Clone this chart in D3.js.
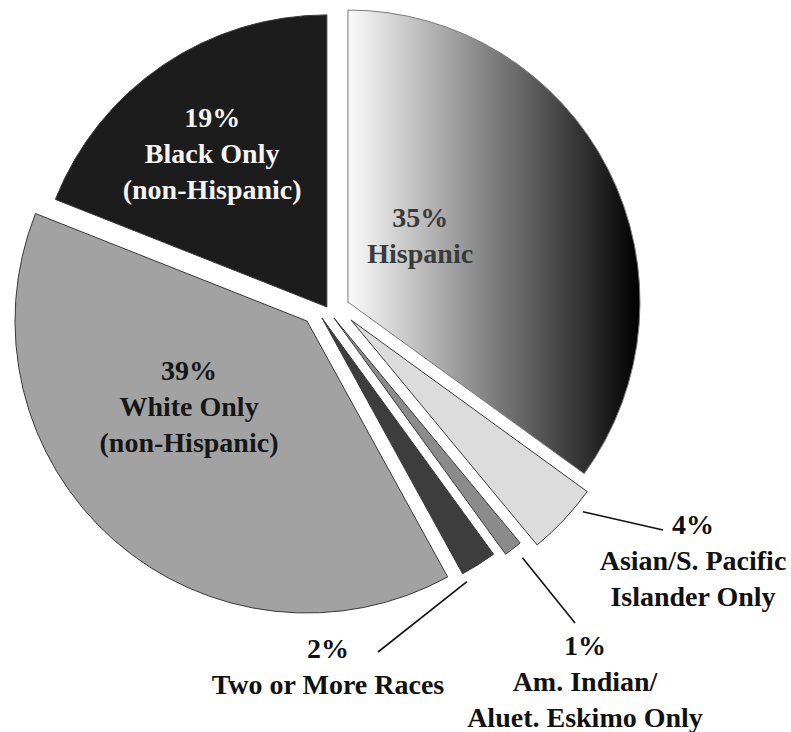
<!DOCTYPE html>
<html>
<head>
<meta charset="utf-8">
<script src="https://cdn.jsdelivr.net/npm/d3@7"></script>
<style>
  html, body { margin: 0; padding: 0; background: #fff; }
  svg { display: block; }
  text { font-family: "Liberation Serif", "Times New Roman", serif; font-weight: bold; }
</style>
</head>
<body>
<svg id="chart" width="791" height="732"></svg>
<script>
// Population shares by race / ethnicity (percent), clockwise from 12 o'clock
const categories = [
  "Hispanic",
  "Asian/S. Pacific Islander Only",
  "Am. Indian/Aluet. Eskimo Only",
  "Two or More Races",
  "White Only (non-Hispanic)",
  "Black Only (non-Hispanic)"
];
const shares = [35, 4, 1, 2, 39, 19];
const labelNames = [
  ["Hispanic"],
  ["Asian/S. Pacific", "Islander Only"],
  ["Am. Indian/", "Aluet. Eskimo Only"],
  ["Two or More Races"],
  ["White Only", "(non-Hispanic)"],
  ["Black Only", "(non-Hispanic)"]
];

// Styling and layout
const fills = ["url(#hispGrad)", "#dcdcdc", "#8b8b8b", "#3d3d3d", "#a2a2a2", "#1c1c1c"];
const textFills = ["#3a3a3a", "#111", "#111", "#111", "#161616", "#f4f4f4"];
// slice pull-out: [radial, tangential] px
const explode = [[21.4, 4.2], [25.7, -7.7], [12.2, 0.6], [5.7, 9.6], [23.0, 6.4], [1, 0.5]];
// inside labels: [angle deg from slice tip, distance]
const insideLabel = {0: [47.5, 98], 4: [233.9, 146], 5: [323.1, 191]};
// callout labels: text centre x, first baseline y, leader end, leader start (fraction of slice, gap)
const callout = {
  1: {x: 693, y: 534, end: [663, 530], at: 0.25, gap: 9},
  2: {x: 585, y: 655, end: [575, 623], at: 0.4, gap: 13},
  3: {x: 328, y: 658, end: [378, 652], at: 1.0, gap: 9}
};
const cx = 327, cy = 308, R = 292, lineH = 36, fontSize = 28;

const svg = d3.select("#chart");
const data = shares.map((v, i) => ({name: categories[i], value: v, i}));

const pie = d3.pie().sort(null).value(d => d.value).startAngle(0).endAngle(2 * Math.PI);
const arcs = pie(data);
const arc = d3.arc().innerRadius(0).outerRadius(R);

// slice tip position after pull-out
arcs.forEach(a => {
  const mid = (a.startAngle + a.endAngle) / 2;
  const u = [Math.sin(mid), -Math.cos(mid)];
  const v = [Math.cos(mid), Math.sin(mid)];
  const [er, et] = explode[a.data.i];
  a.tx = cx + er * u[0] + et * v[0];
  a.ty = cy + er * u[1] + et * v[1];
});

// horizontal white-to-black gradient for the Hispanic slice (slice-local coordinates)
const grad = svg.append("defs").append("linearGradient")
  .attr("id", "hispGrad").attr("gradientUnits", "userSpaceOnUse")
  .attr("x1", 0).attr("y1", 0).attr("x2", R).attr("y2", 0);
grad.append("stop").attr("offset", "0%").attr("stop-color", "#fbfbfb");
grad.append("stop").attr("offset", "100%").attr("stop-color", "#000");

svg.append("g").selectAll("path").data(arcs).join("path")
  .attr("transform", d => `translate(${d.tx},${d.ty})`)
  .attr("d", arc)
  .attr("fill", d => fills[d.data.i])
  .attr("stroke", d => d.data.i === 0 ? "#7a7a7a" : "#3a3a3a")
  .attr("stroke-width", 1)
  .attr("stroke-linejoin", "miter");

const fmt = v => `${v}%`;

// labels inside the large slices
arcs.filter(d => insideLabel[d.data.i]).forEach(d => {
  const [ang, dist] = insideLabel[d.data.i];
  const t = ang * Math.PI / 180;
  const px = d.tx + dist * Math.sin(t), py = d.ty - dist * Math.cos(t);
  const lines = [fmt(d.data.value), ...labelNames[d.data.i]];
  const n = lines.length;
  const txt = svg.append("text")
    .attr("text-anchor", "middle")
    .attr("font-size", fontSize)
    .attr("fill", textFills[d.data.i]);
  lines.forEach((s, k) => {
    txt.append("tspan").attr("x", px)
      .attr("y", py + (k - (n - 1) / 2) * lineH + 9)
      .text(s);
  });
});

// callouts for the small slices
arcs.filter(d => callout[d.data.i]).forEach(d => {
  const c = callout[d.data.i];
  const ang = d.startAngle + c.at * (d.endAngle - d.startAngle);
  const r = R + c.gap;
  svg.append("line")
    .attr("x1", d.tx + r * Math.sin(ang)).attr("y1", d.ty - r * Math.cos(ang))
    .attr("x2", c.end[0]).attr("y2", c.end[1])
    .attr("stroke", "#111").attr("stroke-width", 1.6);
  const lines = [fmt(d.data.value), ...labelNames[d.data.i]];
  const txt = svg.append("text")
    .attr("text-anchor", "middle")
    .attr("font-size", fontSize)
    .attr("fill", textFills[d.data.i]);
  lines.forEach((s, k) => {
    txt.append("tspan").attr("x", c.x).attr("y", c.y + k * lineH).text(s);
  });
});
</script>
</body>
</html>
